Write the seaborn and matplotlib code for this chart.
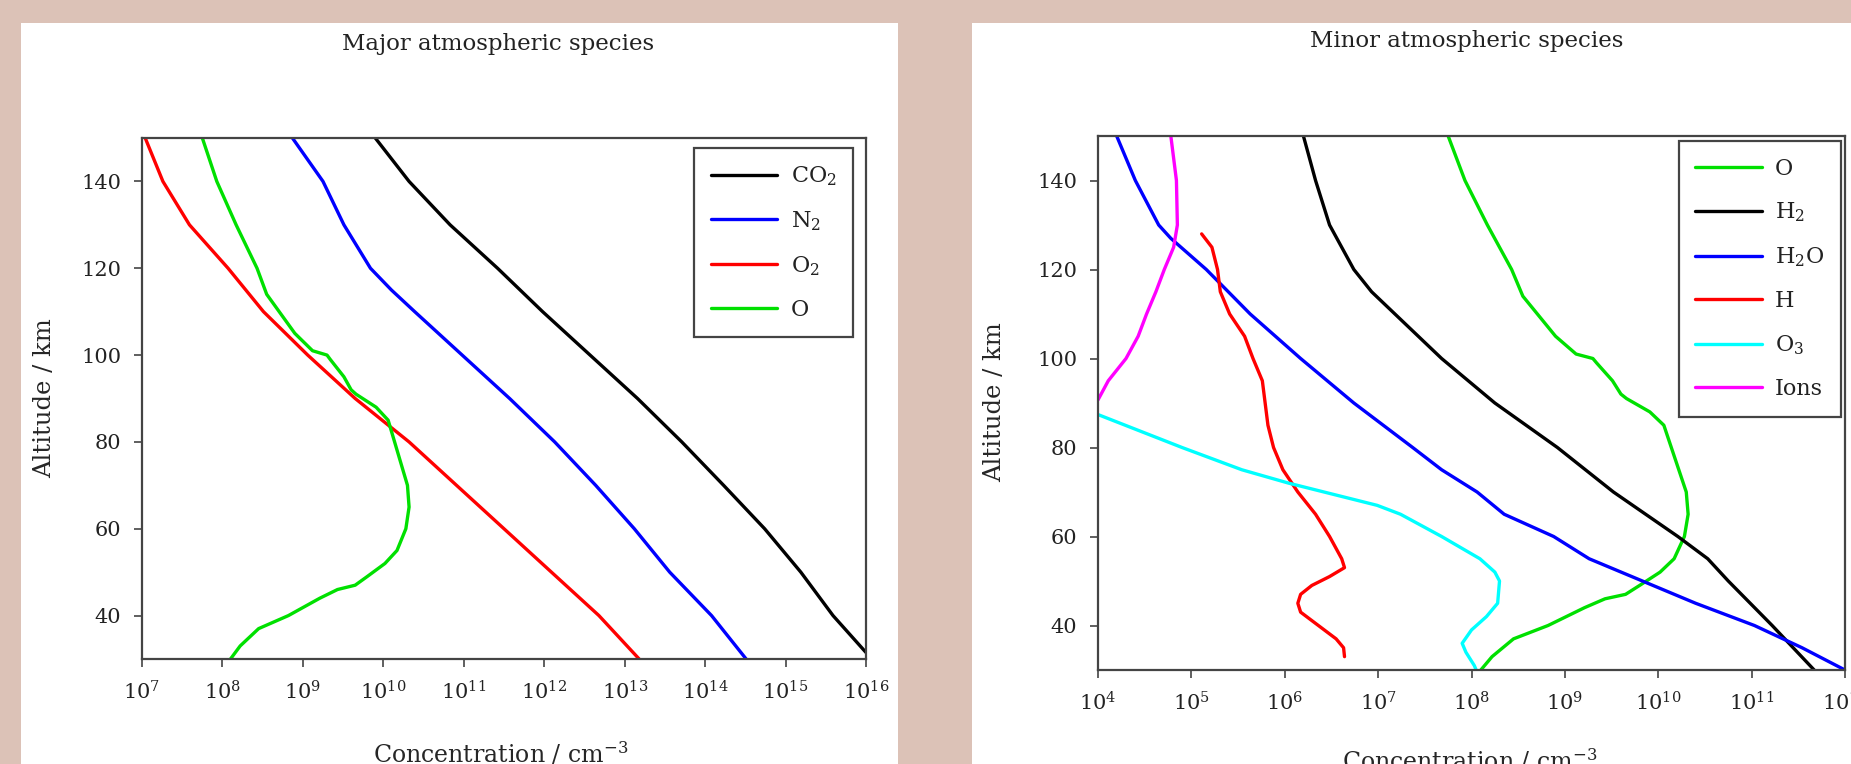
import numpy as np
import pandas as pd
import matplotlib
matplotlib.use("Agg")
from matplotlib import pyplot as plt
from matplotlib.patches import Rectangle
import matplotlib.ticker as ticker
import seaborn as sns

# altitude in km, concentration given as log10(n / cm^-3)
co2_alt = [150, 140, 130, 120, 110, 100, 90, 80, 70, 60, 50, 40, 31.5]
co2_log = [9.9, 10.32, 10.83, 11.42, 11.98, 12.57, 13.16, 13.71, 14.23, 14.74, 15.19, 15.59, 16.0]

n2_alt = [150, 140, 130, 120, 115, 110, 100, 90, 80, 70, 60, 50, 40, 30]
n2_log = [8.87, 9.25, 9.51, 9.84, 10.1, 10.39, 10.98, 11.57, 12.13, 12.64, 13.12, 13.56, 14.08, 14.51]

o2_alt = [150, 140, 130, 120, 110, 100, 90, 80, 70, 60, 50, 40, 30]
o2_log = [7.04, 7.26, 7.59, 8.07, 8.51, 9.06, 9.65, 10.32, 10.91, 11.5, 12.09, 12.68, 13.18]

o_alt = [150, 140, 130, 120, 114, 105, 101, 100, 99, 95, 92, 91, 88, 85, 80, 75, 70, 65,
         60, 55, 52, 49, 47, 46, 44, 40, 37, 33, 30]
o_log = [7.75, 7.93, 8.17, 8.43, 8.55, 8.9, 9.12, 9.3, 9.34, 9.51, 9.6, 9.66, 9.91, 10.06,
         10.14, 10.22, 10.3, 10.32, 10.28, 10.17, 10.02, 9.8, 9.65, 9.43, 9.21, 8.82, 8.45,
         8.22, 8.1]

h2_alt = [150, 140, 130, 120, 115, 110, 100, 90, 80, 70, 60, 55, 50, 40, 30]
h2_log = [6.2, 6.33, 6.48, 6.74, 6.93, 7.18, 7.68, 8.25, 8.92, 9.52, 10.21, 10.53, 10.75,
          11.22, 11.67]

h2o_alt = [150, 140, 130, 127, 120, 110, 100, 90, 80, 75, 70, 65, 60, 55, 50, 45, 40, 35, 30]
h2o_log = [4.2, 4.4, 4.65, 4.78, 5.16, 5.63, 6.17, 6.74, 7.37, 7.68, 8.06, 8.35, 8.88, 9.26,
           9.83, 10.4, 11.03, 11.54, 12.0]

h_alt = [128, 125, 120, 115, 110, 105, 100, 95, 90, 85, 80, 75, 70, 65, 60, 55, 53, 51, 49,
         47, 45, 43, 40, 37, 35, 33]
h_log = [5.11, 5.22, 5.28, 5.31, 5.41, 5.57, 5.66, 5.76, 5.79, 5.82, 5.88, 5.98, 6.14, 6.33,
         6.48, 6.61, 6.64, 6.48, 6.29, 6.17, 6.14, 6.17, 6.36, 6.55, 6.63, 6.64]

o3_alt = [87.4, 80, 75, 72, 70, 67, 65, 60, 55, 52, 50, 45, 42, 39, 36, 34, 31, 30]
o3_log = [4.0, 4.9, 5.54, 6.04, 6.42, 6.99, 7.24, 7.68, 8.09, 8.25, 8.3, 8.28, 8.16, 8.0,
          7.9, 7.94, 8.03, 8.05]

ions_alt = [90.7, 95, 100, 105, 110, 115, 120, 125, 130, 140, 150]
ions_log = [4.0, 4.11, 4.3, 4.43, 4.52, 4.62, 4.71, 4.81, 4.85, 4.84, 4.78]

major = [("CO$_2$", co2_alt, co2_log, "black"),
         ("N$_2$", n2_alt, n2_log, "#0000ff"),
         ("O$_2$", o2_alt, o2_log, "#ff0000"),
         ("O", o_alt, o_log, "#00e000")]
minor = [("O", o_alt, o_log, "#00e000"),
         ("H$_2$", h2_alt, h2_log, "black"),
         ("H$_2$O", h2o_alt, h2o_log, "#0000ff"),
         ("H", h_alt, h_log, "#ff0000"),
         ("O$_3$", o3_alt, o3_log, "#00ffff"),
         ("Ions", ions_alt, ions_log, "#ff00ff")]

sns.set_style("ticks")
plt.rcParams.update({
    "font.family": ["DejaVu Serif"],
    "mathtext.fontset": "dejavuserif",
    "mathtext.default": "regular",
    "text.color": "#222222",
    "axes.edgecolor": "#444444",
    "xtick.color": "#444444",
    "ytick.color": "#444444",
    "xtick.labelcolor": "#222222",
    "ytick.labelcolor": "#222222",
})

W, H = 1851, 764
fig = plt.figure(figsize=(W / 100, H / 100), dpi=100)
fig.patch.set_facecolor("#dcc2b7")

# white cards behind each chart
fig.add_artist(Rectangle((21 / W, 0), 877 / W, 1 - 23 / H, transform=fig.transFigure,
                         facecolor="white", edgecolor="none", zorder=-1))
fig.add_artist(Rectangle((972 / W, 0), 879 / W, 1 - 23 / H, transform=fig.transFigure,
                         facecolor="white", edgecolor="none", zorder=-1))


def px_box(x0, y0, x1, y1):
    return [x0 / W, 1 - y1 / H, (x1 - x0) / W, (y1 - y0) / H]


def draw_panel(ax, species, lo, hi, legend_anchor, xlab_pos, ylab_pos):
    for name, alt, logc, color in species:
        df = pd.DataFrame({"alt": alt, "conc": np.power(10.0, logc)})
        sns.lineplot(data=df, x="conc", y="alt", sort=False, estimator=None,
                     color=color, lw=2.4, label=name, ax=ax)
    ax.set_xscale("log")
    ax.set_xlim(10.0 ** lo, 10.0 ** hi)
    ax.set_ylim(30, 150)
    ax.set_xticks(10.0 ** np.arange(lo, hi + 1))
    ax.xaxis.set_major_formatter(ticker.LogFormatterSciNotation())
    ax.xaxis.set_minor_locator(ticker.NullLocator())
    ax.set_yticks(np.arange(40, 150, 20))
    ax.tick_params(direction="out", length=6, width=1.2, labelsize=15, pad=9)
    for s in ax.spines.values():
        s.set_visible(True)
        s.set_linewidth(1.6)

    ax.set_xlabel("Concentration / cm$^{-3}$", fontsize=17)
    ax.set_ylabel("Altitude / km", fontsize=17.5)
    ax.xaxis.set_label_coords(*xlab_pos)
    ax.yaxis.set_label_coords(*ylab_pos)
    ax.xaxis.label.set_va("center")
    ax.yaxis.label.set_va("center")

    leg = ax.legend(loc="upper right", bbox_to_anchor=legend_anchor, borderaxespad=0,
                    frameon=True, fancybox=False, framealpha=1, edgecolor="#444444",
                    fontsize=16, handlelength=3.0, handletextpad=0.6, labelspacing=0.95,
                    borderpad=0.75)
    leg.get_frame().set_linewidth(1.6)


ax1 = fig.add_axes(px_box(142, 138, 866, 659))
draw_panel(ax1, major, 7, 16, (0.982, 0.981), (0.496, -0.182), (-0.135, 0.501))

ax2 = fig.add_axes(px_box(1098, 136, 1845, 670))
draw_panel(ax2, minor, 4, 12, (0.9946, 0.9906), (0.498, -0.170), (-0.138, 0.502))

fig.text(498 / W, 1 - 44 / H, "Major atmospheric species", ha="center", va="center", fontsize=16.5)
fig.text(1467 / W, 1 - 41.5 / H, "Minor atmospheric species", ha="center", va="center", fontsize=16.5)

fig.savefig("out.png", dpi=100, facecolor=fig.get_facecolor())
